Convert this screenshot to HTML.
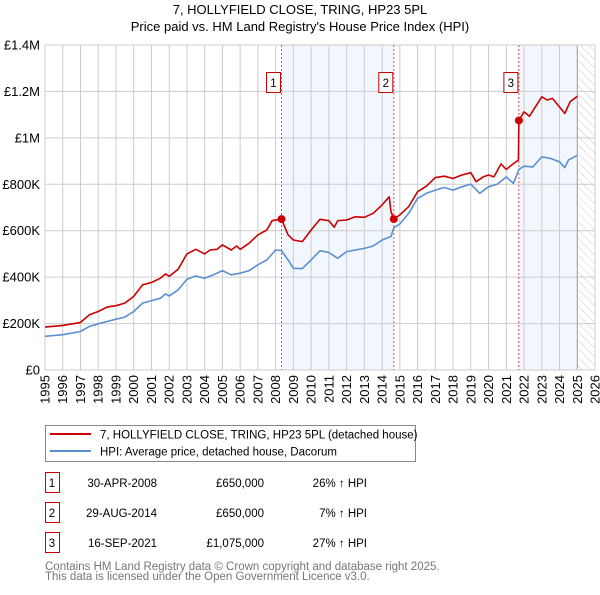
<!DOCTYPE html>
<html><head><meta charset="utf-8"><style>
body{margin:0;background:#fff;font-family:"Liberation Sans","DejaVu Sans",sans-serif;}
#wrap{position:relative;width:600px;height:590px;}
</style></head><body><div id="wrap">
<svg id="chart" width="600" height="590" xmlns="http://www.w3.org/2000/svg" font-family="Liberation Sans, DejaVu Sans, sans-serif">
<defs><pattern id="hatch" width="6" height="6" patternUnits="userSpaceOnUse" patternTransform="rotate(-45)"><line x1="0" y1="0" x2="0" y2="6" stroke="#ccc" stroke-width="1"/></pattern></defs>
<text x="300" y="14" text-anchor="middle" font-size="13" fill="#000">7, HOLLYFIELD CLOSE, TRING, HP23 5PL</text>
<text x="300" y="31" text-anchor="middle" font-size="13" fill="#000">Price paid vs. HM Land Registry's House Price Index (HPI)</text>
<g id="plot"></g>
<g>
<rect x="45.5" y="425.5" width="370" height="36" fill="#fff" stroke="#888"/>
<line x1="50" y1="434" x2="91" y2="434" stroke="#cc0000" stroke-width="2"/>
<text x="100" y="438.5" font-size="11.5" fill="#000">7, HOLLYFIELD CLOSE, TRING, HP23 5PL (detached house)</text>
<line x1="50" y1="451" x2="91" y2="451" stroke="#5b8fd4" stroke-width="2"/>
<text x="100" y="455.5" font-size="11.5" fill="#000">HPI: Average price, detached house, Dacorum</text>
</g>
<g id="table" font-size="11.5" fill="#000"></g>
<text x="45" y="570" font-size="11.5" fill="#777">Contains HM Land Registry data © Crown copyright and database right 2025.</text>
<text x="45" y="580" font-size="11.5" fill="#777">This data is licensed under the Open Government Licence v3.0.</text>
</svg></div>
<script>
const hpiDates=[1995,1996,1997,1997.5,1998,1998.5,1999,1999.5,2000,2000.5,2001,2001.5,2001.8,2002,2002.5,2003,2003.5,2004,2004.5,2005,2005.5,2006,2006.5,2007,2007.5,2008,2008.33,2008.7,2009,2009.5,2010,2010.5,2011,2011.5,2012,2012.5,2013,2013.5,2014,2014.5,2014.66,2015,2015.5,2016,2016.5,2017,2017.5,2018,2018.5,2019,2019.5,2020,2020.5,2021,2021.4,2021.71,2022,2022.5,2023,2023.5,2024,2024.3,2024.5,2025];
const hpiValues=[145,152,166,188,199,209,219,228,252,288,299,309,328,319,345,391,405,395,410,428,410,417,428,453,474,517,514,474,438,437,474,514,506,481,510,517,524,534,560,575,613,629,675,739,761,775,786,775,789,801,761,789,801,832,804,864,878,875,918,911,897,872,904,925];
const priceDates=[1995,1996,1997,1997.5,1998,1998.5,1999,1999.5,2000,2000.5,2001,2001.5,2001.8,2002,2002.5,2003,2003.5,2004,2004.3,2004.7,2005,2005.5,2005.8,2006,2006.5,2007,2007.5,2007.8,2008.33,2008.7,2009,2009.5,2010,2010.5,2011,2011.3,2011.5,2012,2012.5,2013,2013.5,2014,2014.4,2014.5,2014.66,2015,2015.5,2016,2016.5,2017,2017.5,2018,2018.5,2019,2019.3,2019.7,2020,2020.3,2020.7,2021,2021.4,2021.68,2021.71,2022,2022.3,2023,2023.3,2023.6,2024,2024.3,2024.6,2025];
const priceValues=[185,192,205,238,252,271,277,288,317,367,377,395,414,403,434,500,520,500,517,520,539,517,534,520,546,582,603,643,650,582,560,553,603,649,643,615,643,646,660,658,675,711,746,682,650,668,704,768,792,829,835,825,840,850,811,832,840,832,888,864,889,904,1075,1112,1093,1177,1163,1170,1133,1105,1156,1179];
const saleDates=[2008.33,2014.66,2021.71];
const saleValues=[650,650,1075];
const saleLabels=["1","2","3"];
const saleDateText=["30-APR-2008","29-AUG-2014","16-SEP-2021"];
const salePriceText=["£650,000","£650,000","£1,075,000"];
const saleHpiText=["26% ↑ HPI","7% ↑ HPI","27% ↑ HPI"];
const yTicks=[0,200,400,600,800,1000,1200,1400];
const yTickLabels=["£0","£200K","£400K","£600K","£800K","£1M","£1.2M","£1.4M"];
const xYears=[1995,1996,1997,1998,1999,2000,2001,2002,2003,2004,2005,2006,2007,2008,2009,2010,2011,2012,2013,2014,2015,2016,2017,2018,2019,2020,2021,2022,2023,2024,2025,2026];
const dataEnd=2025.0;

const L=45,R=595,T=45,B=370;
const xS=y=>L+(y-1995)/(2026-1995)*(R-L);
const yS=v=>B-v/1400*(B-T);
const NS="http://www.w3.org/2000/svg";
const plot=document.getElementById('plot');
function mk(tag,attrs,parent){const e=document.createElementNS(NS,tag);for(const k in attrs)e.setAttribute(k,attrs[k]);(parent||plot).appendChild(e);return e;}

// shaded ranges
const sh1=mk('rect',{x:xS(saleDates[0]),y:T,width:xS(saleDates[1])-xS(saleDates[0]),height:B-T,fill:'#eef3fc',opacity:0.75});


const sh2=mk('rect',{x:xS(saleDates[2]),y:T,width:xS(dataEnd)-xS(saleDates[2]),height:B-T,fill:'#eef3fc',opacity:0.75});


const hz=mk('rect',{x:xS(dataEnd),y:T,width:R-xS(dataEnd),height:B-T,fill:'url(#hatch)'});



// grid
yTicks.forEach((v,i)=>{
 const g=mk('line',{x1:L,x2:R,y1:yS(v),y2:yS(v),stroke:'#ccc','stroke-width':1});
 
 
 const t=mk('text',{x:L-5,y:yS(v)+4.5,'text-anchor':'end','font-size':13,fill:'#000'});
 t.textContent=yTickLabels[i];
 
 
});
xYears.forEach(y=>{
 const g=mk('line',{x1:xS(y),x2:xS(y),y1:T,y2:B,stroke:y===dataEnd?'#999':'#ccc','stroke-width':1});
 
 
 const t=mk('text',{x:0,y:0,'text-anchor':'end','font-size':13,fill:'#000',transform:`translate(${xS(y)+4.5},${B+5}) rotate(-90)`});
 t.textContent=y;
 
 
});
const ax=mk('rect',{x:L,y:T,width:R-L,height:B-T,fill:'none',stroke:'#ccc'});



// sale lines
saleDates.forEach((d,i)=>{
 const l=mk('line',{x1:xS(d),x2:xS(d),y1:T,y2:B,stroke:'#e05050','stroke-width':1,'stroke-dasharray':'2,2'});
 
 
});

function path(ds,vs,color,name){
 const d=ds.map((x,i)=>(i?'L':'M')+xS(x).toFixed(1)+','+yS(vs[i]).toFixed(1)).join('');
 const p=mk('path',{d:d,fill:'none',stroke:color,'stroke-width':1.6,'stroke-linejoin':'round'});
 
 
}
path(hpiDates,hpiValues,'#5b8fd4','hpi-line');
path(priceDates,priceValues,'#cc0000','price-line');

saleDates.forEach((d,i)=>{
 const c=mk('circle',{cx:xS(d),cy:yS(saleValues[i]),r:4,fill:'#cc0000'});
 
 
 const b=mk('rect',{x:xS(d)-15,y:72.5,width:14,height:20,fill:'#fff',stroke:'#cc0000'});
 
 
 const t=mk('text',{x:xS(d)-8,y:87,'text-anchor':'middle','font-size':11.5,fill:'#000'});
 t.textContent=saleLabels[i];
 
 
});

// table
const tb=document.getElementById('table');
saleDates.forEach((d,i)=>{
 const cy=483+i*30;
 const b=mk('rect',{x:45.5,y:cy-10.5,width:14,height:20,fill:'#fff',stroke:'#cc0000'},tb);
 
 
 const cols=[[52,'middle',saleLabels[i],'table-row-number'],[157,'end',saleDateText[i],'table-row-date'],[264,'end',salePriceText[i],'table-row-price'],[367,'end',saleHpiText[i],'table-row-hpi-change']];
 cols.forEach(c=>{
  const t=mk('text',{x:c[0],y:cy+4,'text-anchor':c[1],'font-size':11.5,fill:'#000'},tb);
  t.textContent=c[2];
  
  
 });
});
</script></body></html>
